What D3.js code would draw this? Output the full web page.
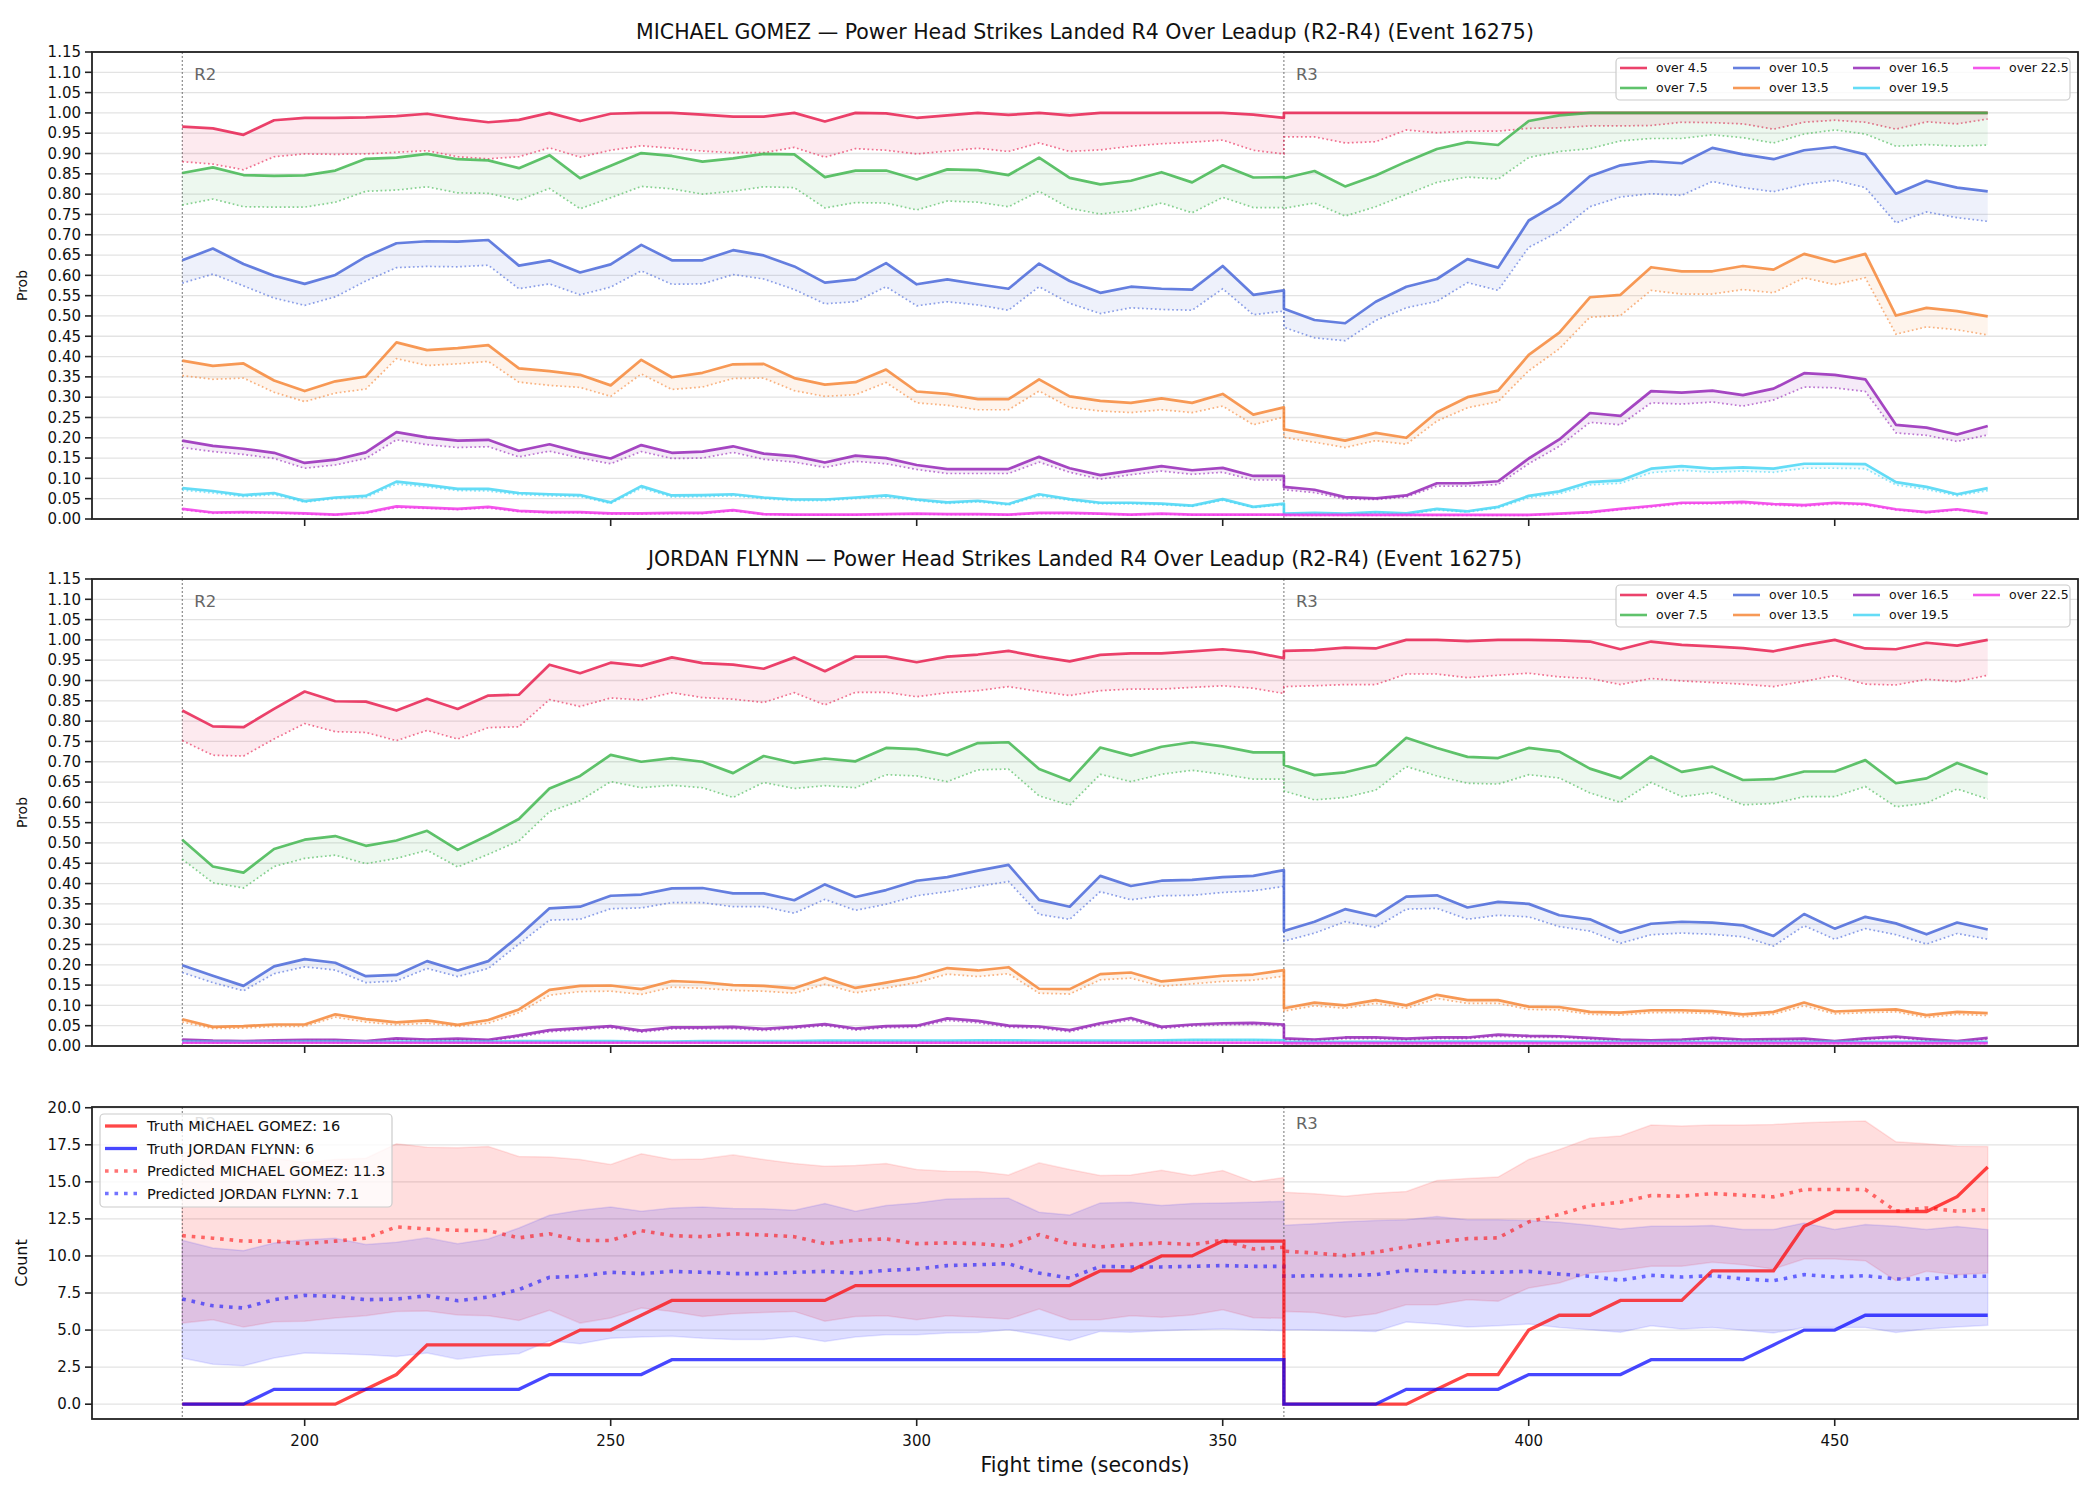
<!DOCTYPE html>
<html>
<head>
<meta charset="utf-8">
<title>Power Head Strikes Landed R4</title>
<script src="https://d3js.org/d3.v7.min.js"></script>
<style>
body { margin: 0; padding: 0; background: white; }
svg { font-family: "DejaVu Sans", sans-serif; }
</style>
</head>
<body>
<script>

// 1. data (fight time in seconds; 360 appears twice: end of R2 / start of R3)
var xs = [180,185,190,195,200,205,210,215,220,225,230,235,240,245,250,255,260,265,270,275,280,285,290,295,300,305,310,315,320,325,330,335,340,345,350,355,360,
          360,365,370,375,380,385,390,395,400,405,410,415,420,425,430,435,440,445,450,455,460,465,470,475];

var lineNames = ["over 4.5","over 7.5","over 10.5","over 13.5","over 16.5","over 19.5","over 22.5"];
var xTicks = [200,250,300,350,400,450];

// MICHAEL GOMEZ - solid = model, dotted = reference line
var g45  = [.966,.962,.946,.982,.988,.988,.989,.992,.998,.986,.977,.983,1.0,.98,.998,1.0,1.0,.996,.991,.991,1.0,.979,1.0,.999,.988,.994,1.0,.995,1.0,.994,1.0,1.0,1.0,1.0,1.0,.996,.988,
            1,1,1,1,1,1,1,1,1,1,1,1,1,1,1,1,1,1,1,1,1,1,1,1];
var g45d = [.88,.874,.86,.892,.899,.898,.899,.903,.907,.892,.887,.892,.914,.891,.908,.919,.913,.906,.902,.902,.915,.891,.912,.908,.899,.906,.913,.905,.926,.905,.909,.918,.924,.928,.933,.908,.899,
            .941,.941,.926,.929,.958,.951,.955,.955,.962,.963,.968,.968,.969,.977,.976,.973,.96,.977,.982,.977,.96,.978,.973,.985];
var g75  = [.852,.866,.847,.845,.846,.858,.887,.89,.899,.886,.883,.864,.896,.839,.87,.901,.894,.88,.888,.899,.898,.842,.858,.858,.836,.861,.859,.847,.89,.84,.824,.833,.854,.829,.871,.841,.842,
            .839,.857,.819,.846,.88,.911,.928,.921,.98,.994,1,1,1,1,1,1,1,1,1,1,1,1,1,1];
var g75d = [.773,.788,.769,.768,.768,.78,.807,.81,.818,.803,.802,.785,.814,.764,.791,.819,.813,.8,.807,.818,.816,.766,.779,.778,.761,.783,.78,.769,.807,.765,.751,.759,.778,.754,.792,.767,.767,
            .765,.778,.746,.769,.799,.829,.842,.837,.89,.905,.912,.931,.937,.937,.946,.939,.926,.948,.958,.948,.918,.922,.918,.921];
var g105  = [.637,.666,.628,.599,.579,.601,.646,.679,.684,.683,.687,.624,.637,.607,.627,.675,.637,.637,.662,.649,.622,.582,.59,.63,.578,.59,.578,.567,.629,.586,.557,.572,.567,.565,.623,.552,.563,
             .518,.49,.482,.535,.572,.591,.64,.619,.735,.779,.844,.871,.881,.876,.914,.898,.886,.908,.916,.898,.801,.833,.816,.807];
var g105d = [.581,.603,.574,.544,.526,.547,.586,.619,.622,.621,.625,.567,.579,.552,.571,.611,.578,.579,.602,.591,.565,.53,.535,.572,.525,.535,.527,.514,.572,.531,.506,.52,.516,.514,.567,.503,.512,
             .472,.446,.439,.489,.52,.536,.582,.563,.669,.708,.769,.793,.801,.797,.831,.816,.806,.824,.834,.816,.729,.756,.742,.733];
var g135  = [.39,.377,.383,.341,.315,.339,.351,.435,.416,.421,.428,.371,.364,.355,.329,.392,.349,.36,.381,.382,.347,.331,.337,.368,.314,.308,.295,.295,.344,.302,.291,.286,.297,.286,.308,.257,.275,
             .221,.207,.193,.212,.2,.263,.3,.316,.404,.459,.546,.552,.62,.61,.61,.623,.614,.653,.633,.653,.501,.52,.512,.499];
var g135d = [.353,.344,.347,.312,.289,.31,.32,.395,.378,.382,.388,.337,.329,.324,.302,.357,.319,.325,.346,.347,.316,.302,.306,.336,.286,.28,.269,.269,.315,.275,.266,.262,.269,.262,.278,.232,.251,
             .201,.189,.176,.193,.184,.241,.274,.289,.365,.419,.497,.501,.563,.554,.554,.565,.557,.594,.577,.594,.455,.473,.466,.453];
var g165  = [.193,.18,.173,.163,.138,.146,.164,.214,.201,.193,.195,.168,.184,.164,.149,.182,.163,.166,.179,.161,.155,.139,.156,.15,.133,.123,.123,.123,.153,.125,.108,.119,.13,.12,.126,.106,.106,
             .079,.072,.054,.051,.058,.088,.088,.093,.149,.196,.261,.254,.315,.311,.316,.305,.321,.359,.355,.344,.232,.225,.208,.229];
var g165d = [.176,.166,.159,.149,.125,.133,.149,.195,.183,.176,.178,.153,.167,.15,.136,.166,.149,.15,.164,.147,.14,.127,.142,.136,.122,.112,.112,.112,.14,.115,.098,.109,.118,.11,.115,.096,.096,
             .072,.065,.049,.048,.054,.081,.081,.085,.136,.179,.238,.232,.286,.283,.288,.278,.293,.325,.323,.314,.212,.206,.191,.207];
var g195  = [.076,.069,.059,.064,.044,.053,.057,.092,.084,.074,.074,.064,.061,.059,.041,.081,.058,.059,.061,.053,.048,.048,.053,.058,.048,.041,.045,.037,.061,.049,.04,.04,.038,.033,.049,.03,.038,
             .013,.015,.013,.017,.014,.025,.019,.03,.057,.068,.091,.095,.124,.13,.124,.127,.124,.136,.136,.135,.091,.079,.061,.076];
var g195d = [.071,.064,.055,.06,.041,.05,.053,.086,.079,.07,.069,.06,.057,.055,.038,.076,.054,.055,.057,.05,.045,.045,.05,.054,.045,.038,.042,.034,.057,.046,.037,.037,.035,.031,.046,.028,.035,
             .011,.013,.011,.015,.012,.022,.017,.027,.052,.062,.084,.088,.114,.12,.115,.118,.115,.125,.125,.124,.084,.073,.057,.07];
var g225  = [.025,.016,.017,.016,.014,.011,.016,.031,.028,.025,.03,.02,.017,.017,.014,.014,.015,.015,.022,.012,.011,.011,.011,.012,.013,.012,.012,.011,.015,.015,.013,.011,.013,.011,.011,.011,.011,
             .01,.01,.01,.01,.01,.01,.01,.01,.01,.013,.017,.025,.032,.04,.04,.042,.037,.034,.04,.037,.024,.017,.024,.014];
var g225d = [.023,.014,.015,.014,.012,.01,.014,.028,.026,.023,.027,.018,.015,.015,.012,.012,.013,.013,.02,.011,.01,.01,.01,.011,.012,.011,.011,.01,.013,.013,.012,.01,.012,.01,.01,.01,.01,
             .009,.009,.009,.009,.009,.009,.009,.009,.009,.012,.015,.023,.029,.037,.037,.038,.034,.031,.037,.034,.022,.015,.022,.013];

// JORDAN FLYNN
var f45  = [.826,.787,.785,.83,.873,.849,.848,.826,.855,.83,.863,.865,.939,.918,.944,.936,.957,.943,.939,.929,.957,.923,.959,.959,.945,.959,.964,.973,.959,.947,.963,.967,.967,.972,.977,.97,.955,
            .973,.975,.981,.979,1.0,1.0,.997,1.0,1.0,.999,.996,.977,.996,.988,.984,.98,.972,.987,1.0,.979,.977,.993,.986,1.0];
var f45d = [.752,.716,.714,.756,.794,.774,.772,.752,.777,.756,.784,.786,.853,.836,.857,.852,.87,.858,.854,.846,.87,.84,.871,.871,.86,.87,.875,.885,.873,.863,.875,.879,.879,.883,.887,.881,.868,
            .885,.887,.89,.89,.916,.916,.907,.913,.918,.909,.905,.89,.905,.899,.895,.891,.885,.898,.912,.891,.889,.903,.897,.913];
var f75  = [.508,.442,.427,.485,.508,.517,.493,.506,.53,.483,.519,.559,.634,.665,.717,.7,.709,.7,.672,.714,.697,.708,.701,.734,.731,.716,.746,.748,.682,.653,.735,.715,.737,.748,.738,.723,.723,
            .692,.667,.674,.692,.759,.734,.712,.709,.734,.725,.683,.659,.713,.675,.688,.655,.657,.676,.676,.704,.647,.659,.697,.669];
var f75d = [.46,.402,.389,.442,.462,.47,.449,.462,.482,.441,.472,.505,.577,.604,.651,.636,.642,.636,.612,.649,.634,.641,.636,.668,.665,.651,.68,.682,.616,.593,.669,.651,.669,.679,.669,.657,.657,
            .628,.606,.612,.63,.688,.665,.647,.645,.668,.66,.623,.6,.649,.614,.624,.594,.597,.614,.614,.639,.589,.598,.633,.608];
var f105  = [.199,.173,.148,.196,.214,.205,.172,.175,.209,.186,.209,.271,.339,.343,.37,.373,.388,.389,.376,.376,.359,.398,.367,.384,.407,.416,.432,.446,.36,.343,.419,.394,.407,.409,.416,.419,.433,
             .283,.306,.337,.32,.368,.371,.341,.355,.35,.322,.312,.279,.301,.306,.304,.297,.271,.325,.289,.318,.302,.275,.304,.287];
var f105d = [.181,.156,.136,.178,.195,.187,.156,.16,.191,.171,.191,.251,.31,.312,.338,.34,.353,.353,.343,.343,.327,.361,.334,.349,.37,.38,.393,.405,.324,.312,.38,.36,.37,.371,.378,.382,.393,
             .258,.278,.306,.292,.337,.339,.312,.322,.318,.294,.283,.253,.274,.278,.275,.269,.246,.296,.263,.289,.274,.251,.277,.263];
var f135  = [.066,.047,.049,.053,.053,.078,.066,.058,.063,.052,.064,.09,.138,.148,.149,.14,.16,.157,.15,.148,.142,.168,.143,.156,.17,.192,.186,.194,.141,.14,.177,.181,.159,.166,.173,.176,.187,
             .093,.107,.1,.113,.1,.126,.113,.113,.097,.096,.084,.082,.088,.088,.086,.078,.084,.107,.085,.088,.09,.076,.084,.081];
var f135d = [.059,.043,.044,.048,.048,.071,.059,.052,.056,.048,.056,.082,.125,.134,.135,.127,.145,.142,.137,.135,.13,.152,.131,.143,.156,.177,.171,.178,.13,.128,.163,.167,.147,.153,.159,.162,.172,
             .086,.099,.093,.105,.093,.117,.105,.105,.09,.089,.078,.076,.082,.082,.08,.072,.078,.099,.079,.082,.084,.07,.078,.075];
var f165  = [.016,.013,.012,.014,.015,.015,.012,.019,.016,.018,.015,.026,.039,.044,.049,.038,.046,.046,.047,.042,.047,.054,.043,.049,.05,.068,.062,.05,.048,.039,.056,.069,.047,.053,.056,.057,.053,
             .019,.016,.021,.021,.018,.021,.021,.028,.025,.024,.02,.016,.014,.016,.02,.016,.017,.018,.012,.019,.023,.017,.012,.02];
var f165d = [.013,.011,.01,.012,.013,.013,.01,.016,.013,.015,.013,.022,.035,.04,.045,.034,.042,.042,.043,.038,.043,.05,.039,.045,.046,.063,.057,.046,.044,.035,.052,.064,.043,.049,.052,.053,.049,
             .016,.013,.018,.018,.015,.018,.018,.024,.021,.021,.017,.013,.012,.013,.017,.013,.014,.015,.01,.016,.02,.014,.01,.017];
var f195  = [.011,.01,.01,.01,.011,.011,.01,.011,.011,.011,.011,.012,.012,.012,.012,.011,.011,.012,.012,.012,.012,.013,.013,.013,.013,.013,.014,.014,.013,.013,.013,.013,.014,.015,.015,.015,.014,
             .01,.01,.01,.01,.01,.011,.011,.011,.011,.01,.01,.01,.01,.01,.01,.01,.01,.01,.01,.01,.01,.01,.01,.01];
var f195d = [.01,.009,.009,.009,.01,.01,.009,.01,.01,.01,.01,.011,.011,.011,.011,.01,.01,.011,.011,.011,.011,.012,.012,.012,.012,.012,.013,.013,.012,.012,.012,.012,.013,.014,.014,.014,.013,
             .009,.009,.009,.009,.009,.01,.01,.01,.01,.009,.009,.009,.009,.009,.009,.009,.009,.009,.009,.009,.009,.009,.009,.009];
var f225  = [.008,.008,.008,.008,.008,.008,.008,.008,.008,.008,.008,.008,.008,.008,.008,.008,.008,.008,.008,.008,.008,.008,.008,.008,.008,.008,.008,.008,.008,.008,.008,.008,.008,.008,.008,.008,.008,
             .007,.007,.007,.007,.007,.007,.007,.007,.007,.007,.007,.007,.007,.007,.007,.007,.007,.007,.007,.007,.007,.007,.007,.007];
var f225d = [.007,.007,.007,.007,.007,.007,.007,.007,.007,.007,.007,.007,.007,.007,.007,.007,.007,.007,.007,.007,.007,.007,.007,.007,.007,.007,.007,.007,.007,.007,.007,.007,.007,.007,.007,.007,.007,
             .006,.006,.006,.006,.006,.006,.006,.006,.006,.006,.006,.006,.006,.006,.006,.006,.006,.006,.006,.006,.006,.006,.006,.006];

// counts
var truthG = [0,0,0,0,0,0,1,2,4,4,4,4,4,5,5,6,7,7,7,7,7,7,8,8,8,8,8,8,8,8,9,9,10,10,11,11,11,
              0,0,0,0,0,1,2,2,5,6,6,7,7,7,9,9,9,12,13,13,13,13,14,16];
var truthF = [0,0,0,1,1,1,1,1,1,1,1,1,2,2,2,2,3,3,3,3,3,3,3,3,3,3,3,3,3,3,3,3,3,3,3,3,3,
              0,0,0,0,1,1,1,1,2,2,2,2,3,3,3,3,4,5,5,6,6,6,6,6];
var predG = [11.37,11.2,11.0,11.0,10.83,11.0,11.2,11.96,11.82,11.73,11.71,11.22,11.5,11.04,11.04,11.71,11.37,11.3,11.5,11.42,11.3,10.83,11.06,11.15,10.83,10.88,10.83,10.65,11.44,10.83,10.61,10.77,10.88,10.77,11.06,10.47,10.59,
             10.32,10.2,10.02,10.25,10.61,10.92,11.17,11.22,12.3,12.8,13.4,13.63,14.08,14.03,14.21,14.1,13.99,14.48,14.48,14.48,13.02,13.24,13.02,13.13];
var predF = [7.09,6.64,6.49,7.05,7.34,7.27,7.05,7.09,7.32,6.98,7.23,7.73,8.56,8.63,8.9,8.81,8.96,8.9,8.81,8.81,8.9,8.96,8.85,9.03,9.12,9.35,9.41,9.48,8.85,8.51,9.3,9.26,9.26,9.3,9.35,9.3,9.3,
             8.63,8.67,8.67,8.74,9.03,8.96,8.9,8.9,8.96,8.78,8.63,8.36,8.69,8.58,8.67,8.45,8.33,8.74,8.58,8.67,8.45,8.45,8.63,8.63];
var bandGHi = [17.0,16.9,16.8,16.6,16.3,16.5,16.6,17.57,17.34,17.3,17.39,16.71,16.67,16.51,16.17,16.89,16.51,16.55,16.82,16.51,16.24,16.06,16.1,16.24,15.83,15.72,15.7,15.47,16.28,15.83,15.43,15.47,15.79,15.43,15.77,15.0,15.29,
               14.3,14.19,14.03,14.23,14.35,15.09,15.23,15.32,16.51,17.18,17.95,18.09,18.83,18.76,18.83,18.83,18.87,18.99,19.05,19.1,17.7,17.57,17.41,17.39];
var bandGLo = [5.47,5.7,5.2,5.56,5.59,5.81,5.97,6.26,6.28,6.01,5.97,5.65,6.33,5.47,5.81,6.49,6.26,5.92,6.1,6.19,6.26,5.59,5.92,5.97,5.7,5.97,5.86,5.74,6.42,5.7,5.7,5.97,5.86,6.01,6.37,5.83,5.79,
               6.26,6.19,5.86,6.1,6.71,6.71,7.05,6.94,7.84,8.18,8.85,9.01,9.3,9.3,9.57,9.41,9.12,9.8,9.8,9.68,8.33,8.96,8.74,8.85];
var bandFHi = [11.06,10.54,10.36,10.88,11.1,11.19,10.77,10.92,11.22,10.83,11.15,11.89,12.75,13.09,13.31,13.02,13.24,13.31,13.2,13.18,13.09,13.54,13.02,13.4,13.58,13.85,13.87,13.9,12.95,12.77,13.58,13.63,13.4,13.54,13.58,13.63,13.69,
               12.07,12.18,12.3,12.39,12.45,12.66,12.45,12.45,12.39,12.27,12.07,11.82,12.0,12.0,12.05,11.78,11.78,12.23,11.78,12.12,12.0,11.78,11.98,11.78];
var bandFLo = [3.11,2.7,2.59,3.11,3.45,3.4,3.33,3.22,3.45,3.04,3.29,3.4,4.28,4.08,4.44,4.53,4.59,4.44,4.37,4.37,4.57,4.23,4.53,4.68,4.68,4.8,4.84,5.02,4.68,4.3,4.91,4.86,4.95,5.02,5.07,5.02,4.95,
               5.02,4.98,4.95,4.91,5.54,5.41,5.2,5.29,5.41,5.18,5.02,4.86,5.29,5.07,5.18,4.98,4.8,5.18,5.18,5.18,4.84,5.07,5.2,5.32];

var lineColors = ["#e6194b","#3cb44b","#4363d8","#f58231","#911eb4","#42d4f4","#f032e6"];
var gomezSolid = [g45,g75,g105,g135,g165,g195,g225];
var gomezDot = [g45d,g75d,g105d,g135d,g165d,g195d,g225d];
var flynnSolid = [f45,f75,f105,f135,f165,f195,f225];
var flynnDot = [f45d,f75d,f105d,f135d,f165d,f195d,f225d];

// 2. layout
var W = 2100, H = 1500;
var left = 92, right = 2078;
var svg = d3.select("body").append("svg").attr("width", W).attr("height", H);
svg.append("rect").attr("width", W).attr("height", H).attr("fill", "white");

var x = d3.scaleLinear().domain([165.25, 489.75]).range([left, right]);

function frame(g, y, top, bottom, yTicks, fmt, showX) {
  // grid
  g.append("g").selectAll("line").data(yTicks).enter().append("line")
    .attr("x1", left).attr("x2", right)
    .attr("y1", function(d) { return y(d); }).attr("y2", function(d) { return y(d); })
    .attr("stroke", "#e3e3e3").attr("stroke-width", 1.3);
  // y ticks
  var yt = g.append("g");
  yt.selectAll("line").data(yTicks).enter().append("line")
    .attr("x1", left - 7).attr("x2", left)
    .attr("y1", function(d) { return y(d); }).attr("y2", function(d) { return y(d); })
    .attr("stroke", "#222").attr("stroke-width", 1.6);
  yt.selectAll("text").data(yTicks).enter().append("text")
    .attr("x", left - 11).attr("y", function(d) { return y(d); })
    .attr("dy", "0.35em").attr("text-anchor", "end")
    .attr("font-size", "15px").attr("fill", "#111")
    .text(function(d) { return d3.format(fmt)(d); });
  // x ticks
  var xt = g.append("g");
  xt.selectAll("line").data(xTicks).enter().append("line")
    .attr("x1", function(d) { return x(d); }).attr("x2", function(d) { return x(d); })
    .attr("y1", bottom).attr("y2", bottom + 7)
    .attr("stroke", "#222").attr("stroke-width", 1.6);
  if (showX) {
    xt.selectAll("text").data(xTicks).enter().append("text")
      .attr("x", function(d) { return x(d); }).attr("y", bottom + 27)
      .attr("text-anchor", "middle").attr("font-size", "15px").attr("fill", "#111")
      .text(function(d) { return d; });
  }
}

function roundLines(g, y, top, bottom, labels, labelY) {
  [180, 360].forEach(function(r, i) {
    g.append("line")
      .attr("x1", x(r)).attr("x2", x(r)).attr("y1", top).attr("y2", bottom)
      .attr("stroke", "#555").attr("stroke-width", 1).attr("stroke-dasharray", "2,2").attr("opacity", 0.8);
    if (labels[i]) {
      g.append("text").attr("x", x(r) + 12).attr("y", labelY)
        .attr("font-size", "16.5px").attr("fill", "#666").text(labels[i]);
    }
  });
}

function border(g, top, bottom) {
  g.append("rect").attr("x", left).attr("y", top)
    .attr("width", right - left).attr("height", bottom - top)
    .attr("fill", "none").attr("stroke", "#222").attr("stroke-width", 1.8);
}

// 3. probability panels
function probPanel(top, title, solids, dots) {
  var bottom = top + 467;
  var y = d3.scaleLinear().domain([0, 1.15]).range([bottom, top]);
  var g = svg.append("g");
  var ticks = d3.range(0, 24).map(function(i) { return i * 0.05; });

  g.append("text").attr("x", (left + right) / 2).attr("y", top - 13)
    .attr("text-anchor", "middle").attr("font-size", "20.5px").attr("fill", "#111").text(title);
  g.append("text").attr("transform", "translate(27," + ((top + bottom) / 2) + ") rotate(-90)")
    .attr("text-anchor", "middle").attr("font-size", "14px").attr("fill", "#111").text("Prob");

  frame(g, y, top, bottom, ticks, ".2f", false);
  roundLines(g, y, top, bottom, ["R2", "R3"], y(1.0925) + 5);

  var line = d3.line().x(function(d, i) { return x(xs[i]); }).y(function(d) { return y(d); });
  solids.forEach(function(s, j) {
    var d2 = dots[j];
    var area = d3.area().x(function(d, i) { return x(xs[i]); })
      .y0(function(d, i) { return y(d2[i]); }).y1(function(d) { return y(d); });
    g.append("path").datum(s).attr("d", area).attr("fill", lineColors[j]).attr("fill-opacity", 0.09);
    g.append("path").datum(d2).attr("d", line).attr("fill", "none")
      .attr("stroke", lineColors[j]).attr("stroke-opacity", 0.6)
      .attr("stroke-width", 1.7).attr("stroke-dasharray", "1.7,2.6");
    g.append("path").datum(s).attr("d", line).attr("fill", "none")
      .attr("stroke", lineColors[j]).attr("stroke-opacity", 0.82)
      .attr("stroke-width", 2.7).attr("stroke-linejoin", "round");
  });

  border(g, top, bottom);

  // legend, 4 columns, filled column by column
  var lg = g.append("g");
  lg.append("rect").attr("x", 1616).attr("y", top + 6).attr("width", 454).attr("height", 42)
    .attr("rx", 4).attr("fill", "white").attr("fill-opacity", 0.8).attr("stroke", "#cccccc").attr("stroke-width", 1.2);
  var colX = [1620, 1733, 1853, 1973];
  lineNames.forEach(function(n, i) {
    var cx = colX[Math.floor(i / 2)], cy = top + 16 + (i % 2) * 20;
    lg.append("line").attr("x1", cx).attr("x2", cx + 27).attr("y1", cy).attr("y2", cy)
      .attr("stroke", lineColors[i]).attr("stroke-opacity", 0.82).attr("stroke-width", 2.6);
    lg.append("text").attr("x", cx + 36).attr("y", cy).attr("dy", "0.35em")
      .attr("font-size", "12.5px").attr("fill", "#111").text(n);
  });
}

probPanel(52, "MICHAEL GOMEZ \u2014 Power Head Strikes Landed R4 Over Leadup (R2-R4) (Event 16275)", gomezSolid, gomezDot);
probPanel(579, "JORDAN FLYNN \u2014 Power Head Strikes Landed R4 Over Leadup (R2-R4) (Event 16275)", flynnSolid, flynnDot);

// 4. count panel
(function() {
  var top = 1107, bottom = 1419;
  var y = d3.scaleLinear().domain([-1.0, 20.05]).range([bottom, top]);
  var g = svg.append("g");
  var ticks = d3.range(0, 9).map(function(i) { return i * 2.5; });

  g.append("text").attr("transform", "translate(27," + ((top + bottom) / 2) + ") rotate(-90)")
    .attr("text-anchor", "middle").attr("font-size", "16px").attr("fill", "#111").text("Count");
  g.append("text").attr("x", (left + right) / 2).attr("y", 1472)
    .attr("text-anchor", "middle").attr("font-size", "20.5px").attr("fill", "#111").text("Fight time (seconds)");

  frame(g, y, top, bottom, ticks, ".1f", true);

  var bandG = d3.area().x(function(d, i) { return x(xs[i]); })
    .y0(function(d, i) { return y(bandGLo[i]); }).y1(function(d) { return y(d); });
  var bandF = d3.area().x(function(d, i) { return x(xs[i]); })
    .y0(function(d, i) { return y(bandFLo[i]); }).y1(function(d) { return y(d); });
  g.append("path").datum(bandGHi).attr("d", bandG)
    .attr("fill", "red").attr("fill-opacity", 0.13).attr("stroke", "red").attr("stroke-opacity", 0.1).attr("stroke-width", 1.5);
  g.append("path").datum(bandFHi).attr("d", bandF)
    .attr("fill", "blue").attr("fill-opacity", 0.13).attr("stroke", "blue").attr("stroke-opacity", 0.1).attr("stroke-width", 1.5);

  roundLines(g, y, top, bottom, ["R2", "R3"], y(19.05) + 7);

  var line = d3.line().x(function(d, i) { return x(xs[i]); }).y(function(d) { return y(d); });
  g.append("path").datum(predG).attr("d", line).attr("fill", "none")
    .attr("stroke", "red").attr("stroke-opacity", 0.55).attr("stroke-width", 3.6).attr("stroke-dasharray", "3.6,5.9");
  g.append("path").datum(predF).attr("d", line).attr("fill", "none")
    .attr("stroke", "blue").attr("stroke-opacity", 0.55).attr("stroke-width", 3.6).attr("stroke-dasharray", "3.6,5.9");
  g.append("path").datum(truthG).attr("d", line).attr("fill", "none")
    .attr("stroke", "red").attr("stroke-opacity", 0.72).attr("stroke-width", 3.3);
  g.append("path").datum(truthF).attr("d", line).attr("fill", "none")
    .attr("stroke", "blue").attr("stroke-opacity", 0.72).attr("stroke-width", 3.3);

  border(g, top, bottom);

  var items = [
    {t: "Truth MICHAEL GOMEZ: " + truthG[truthG.length - 1], c: "red", dash: null, o: 0.72},
    {t: "Truth JORDAN FLYNN: " + truthF[truthF.length - 1], c: "blue", dash: null, o: 0.72},
    {t: "Predicted MICHAEL GOMEZ: 11.3", c: "red", dash: "3.6,5.9", o: 0.55},
    {t: "Predicted JORDAN FLYNN: 7.1", c: "blue", dash: "3.6,5.9", o: 0.55}
  ];
  var lg = g.append("g");
  lg.append("rect").attr("x", 100).attr("y", 1114).attr("width", 292).attr("height", 93)
    .attr("rx", 4).attr("fill", "white").attr("fill-opacity", 0.8).attr("stroke", "#cccccc").attr("stroke-width", 1.2);
  items.forEach(function(it, i) {
    var cy = 1126 + i * 22.5;
    lg.append("line").attr("x1", 105).attr("x2", 137).attr("y1", cy).attr("y2", cy)
      .attr("stroke", it.c).attr("stroke-opacity", it.o).attr("stroke-width", it.dash ? 3.6 : 3.3)
      .attr("stroke-dasharray", it.dash);
    lg.append("text").attr("x", 147).attr("y", cy).attr("dy", "0.35em")
      .attr("font-size", "14.5px").attr("fill", "#111").text(it.t);
  });
})();

</script>
</body>
</html>
